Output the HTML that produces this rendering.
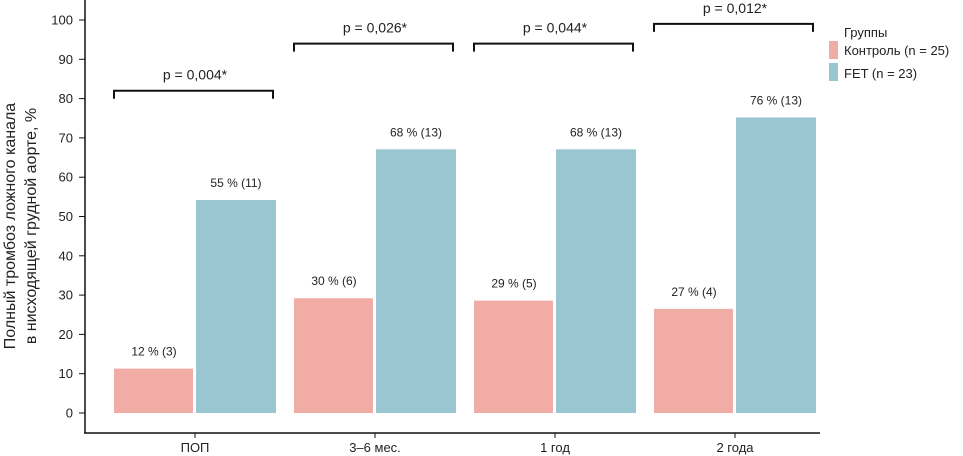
<!DOCTYPE html>
<html><head><meta charset="utf-8"><style>
body{margin:0;background:#fff}
svg{display:block;font-family:"Liberation Sans",sans-serif}
</style></head><body>
<svg id="c" width="963" height="456"></svg>
<script>
const categories=["ПОП","3–6 мес.","1 год","2 года"];
const controlValues=[11.3,29.2,28.6,26.5];
const fetValues=[54.2,67.1,67.1,75.2];
const controlLabels=["12 %  (3)","30 % (6)","29 % (5)","27 % (4)"];
const fetLabels=["55 %  (11)","68 %  (13)","68 %  (13)","76 % (13)"];
const pLabels=["p = 0,004*","p = 0,026*","p = 0,044*","p = 0,012*"];
const pLevels=[82,94,94,99];
const yTicks=[0,10,20,30,40,50,60,70,80,90,100];
const NS="http://www.w3.org/2000/svg";
const svg=document.getElementById("c");
const y=v=>413-v*3.93;
const xc=i=>195+i*180;
function mk(t,a,p){const e=document.createElementNS(NS,t);for(const k in a)e.setAttribute(k,a[k]);(p||svg).appendChild(e);return e;}
let ax=mk("line",{x1:85,y1:0,x2:85,y2:433,stroke:"#111","stroke-width":1.5});


let bx=mk("line",{x1:84,y1:433,x2:820,y2:433,stroke:"#111","stroke-width":1.5});


yTicks.forEach(v=>{
 mk("line",{x1:79,y1:y(v),x2:85,y2:y(v),stroke:"#111","stroke-width":1});
 const t=mk("text",{x:73,y:y(v)+4.5,"text-anchor":"end","font-size":13,fill:"#222"});t.textContent=v;
 
 
});
const yt=mk("text",{transform:"translate(15,226) rotate(-90)","text-anchor":"middle","font-size":16,fill:"#222"});


mk("tspan",{x:0,dy:0},yt).textContent="Полный тромбоз ложного канала";
mk("tspan",{x:0,dy:21},yt).textContent="в нисходящей грудной аорте, %";
categories.forEach((c,i)=>{
 const cx=xc(i);
 let b=mk("rect",{x:cx-81,y:y(controlValues[i]),width:79,height:y(0)-y(controlValues[i]),fill:"#f2aca6"});
 
 
 let f=mk("rect",{x:cx+1,y:y(fetValues[i]),width:80,height:y(0)-y(fetValues[i]),fill:"#9ac6d2"});
 
 
 let l1=mk("text",{x:cx-41,y:y(controlValues[i])-13,"text-anchor":"middle","font-size":12,fill:"#222"});l1.textContent=controlLabels[i];
 
 
 let l2=mk("text",{x:cx+41,y:y(fetValues[i])-13,"text-anchor":"middle","font-size":12,fill:"#222"});l2.textContent=fetLabels[i];
 
 
 mk("line",{x1:cx,y1:433,x2:cx,y2:438,stroke:"#111"});
 let xl=mk("text",{x:cx,y:452,"text-anchor":"middle","font-size":13,fill:"#222"});xl.textContent=c;
 
 
 const by=y(pLevels[i]);
 let br=mk("path",{d:`M${cx-81} ${by+8}V${by}H${cx+78}V${by+8}`,fill:"none",stroke:"#111","stroke-width":2});
 
 
 let pt=mk("text",{x:cx,y:by-11,"text-anchor":"middle","font-size":14,fill:"#222"});pt.textContent=pLabels[i];
 
 
});
const lg=mk("g",{});


mk("text",{x:844,y:37,"font-size":13,fill:"#222"},lg).textContent="Группы";
mk("rect",{x:829,y:41,width:9,height:18,fill:"#f2aca6"},lg);
let le1=mk("text",{x:844,y:55,"font-size":13,fill:"#222"},lg);le1.textContent="Контроль (n = 25)";


mk("rect",{x:829,y:63,width:9,height:18,fill:"#9ac6d2"},lg);
let le2=mk("text",{x:844,y:78,"font-size":13,fill:"#222"},lg);le2.textContent="FET (n = 23)";


</script>
</body></html>
